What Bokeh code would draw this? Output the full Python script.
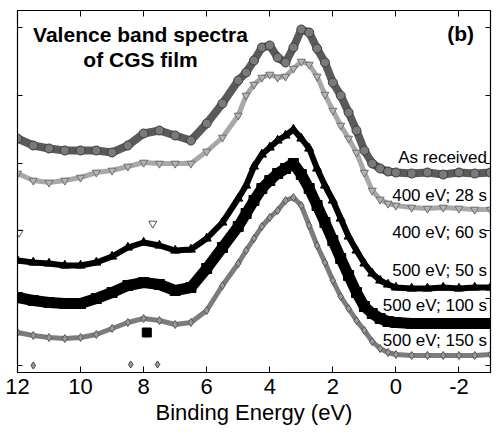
from bokeh.plotting import figure
from bokeh.models import Range1d, LinearAxis, FixedTicker, Label
from bokeh.embed import file_html
from bokeh.resources import INLINE

# Binding energy grid (eV)
energy = [12, 11.5, 11, 10.5, 10, 9.5, 9, 8.5, 8, 7.5, 7, 6.5, 6, 5.5, 5, 4.75, 4.5, 4.25,
          4, 3.75, 3.5, 3.25, 3, 2.75, 2.5, 2.25, 2, 1.75, 1.5, 1.25, 1, 0.75, 0.5, 0.25,
          0, -0.5, -1, -1.5, -2, -2.5, -3]

# Intensities (arbitrary units, offset spectra)
as_received = [234, 227, 224, 222, 222, 222, 220, 227, 239, 242, 237, 232, 249, 269, 292, 300,
               312, 325, 327, 315, 310, 325, 343, 340, 324, 310, 290, 277, 260, 242, 222, 209,
               204, 201, 200, 199, 200, 198, 200, 199, 200]
ev400_28s = [199, 192, 190, 192, 195, 200, 202, 206, 210, 209, 209, 209, 221, 235, 257, 277,
             288, 295, 298, 295, 296, 304, 311, 308, 296, 278, 262, 247, 234, 220, 200, 182,
             173, 169, 167, 165, 164, 165, 164, 163, 163]
ev500_50s = [112, 110, 109, 107, 107, 110, 116, 125, 130, 127, 122, 123, 134, 150, 174, 187,
             206, 218, 225, 232, 237, 243, 234, 224, 204, 187, 172, 154, 136, 122, 109, 99,
             92, 88, 85, 84, 84, 85, 84, 85, 85]
ev500_100s = [75, 72, 70, 69, 69, 74, 80, 87, 90, 88, 82, 85, 104, 125, 146, 159, 172, 184,
              192, 199, 204, 209, 198, 184, 167, 150, 132, 114, 97, 80, 66, 59, 54, 51, 50,
              49, 49, 49, 49, 49, 49]
ev500_150s = [40, 37, 35, 34, 35, 38, 44, 50, 54, 52, 48, 50, 62, 87, 109, 122, 134, 146, 155,
              162, 172, 175, 167, 147, 127, 110, 92, 76, 64, 52, 42, 31, 24, 20, 18, 17, 17,
              17, 17, 17, 18]

# stray points
stray_tri_x = [7.71, 11.95]
stray_tri_y = [149, 140]
stray_sq_x = [7.9]
stray_sq_y = [40]
stray_dia_x = [11.5, 8.41, 7.56]
stray_dia_y = [7, 8, 8]

x_ticks = [12, 10, 8, 6, 4, 2, 0, -2]
x_tick_labels = ["12", "10", "8", "6", "4", "2", "0", "-2"]
y_ticks = [7, 74, 142, 209, 277, 345]

labels = ["As received", "400 eV; 28 s", "400 eV; 60 s", "500 eV; 50 s", "500 eV; 100 s", "500 eV; 150 s"]
label_y = [215, 177, 140, 102, 67, 32]

FONT = "Liberation Sans"

p = figure(frame_width=473, frame_height=362, x_range=Range1d(12, -3), y_range=Range1d(0, 362),
           output_backend="svg", toolbar_location=None,
           min_border_left=17, min_border_right=7, min_border_top=10, min_border_bottom=61)
p.grid.visible = False
p.outline_line_color = "black"
p.outline_line_width = 1.2
p.background_fill_color = "white"
p.border_fill_color = "white"

# bottom axis
xa = p.xaxis[0]
xa.ticker = FixedTicker(ticks=x_ticks)
xa.major_label_overrides = dict(zip(x_ticks, x_tick_labels))
xa.major_tick_in = 6
xa.major_tick_out = 0
xa.minor_tick_line_color = None
xa.axis_line_color = "black"
xa.major_tick_line_color = "black"
xa.major_label_text_font = FONT
xa.major_label_text_font_size = "22px"
xa.major_label_text_color = "black"
xa.major_label_standoff = 6
xa.axis_label = "Binding Energy (eV)"
xa.axis_label_text_font = FONT
xa.axis_label_text_font_size = "22px"
xa.axis_label_text_font_style = "normal"
xa.axis_label_text_color = "black"
xa.axis_label_standoff = 3

# left axis: ticks only
ya = p.yaxis[0]
ya.ticker = FixedTicker(ticks=y_ticks)
ya.major_tick_in = 5
ya.major_tick_out = 0
ya.minor_tick_line_color = None
ya.axis_line_color = "black"
ya.major_tick_line_color = "black"
ya.major_label_overrides = {t: "" for t in y_ticks}
ya.major_label_standoff = 0

# top and right axes with ticks only
top = LinearAxis(ticker=FixedTicker(ticks=x_ticks), major_tick_in=6, major_tick_out=0,
                 minor_tick_line_color=None, major_label_standoff=0,
                 major_label_overrides={t: "" for t in x_ticks})
right = LinearAxis(ticker=FixedTicker(ticks=y_ticks), major_tick_in=5, major_tick_out=0,
                   minor_tick_line_color=None, major_label_standoff=0,
                   major_label_overrides={t: "" for t in y_ticks})
p.add_layout(top, "above")
p.add_layout(right, "right")

# spectra
p.line(energy, as_received, line_color="#5a5a5a", line_width=8)
p.scatter(energy, as_received, marker="circle", size=9, fill_color="#7a7a7a", line_color="#3c3c3c", line_width=1)

p.line(energy, ev400_28s, line_color="#a8a8a8", line_width=5)
p.scatter(energy, ev400_28s, marker="inverted_triangle", size=8, fill_color="#b4b4b4", line_color="#6e6e6e", line_width=1)

p.line(energy, ev500_50s, line_color="black", line_width=6)
p.scatter(energy, ev500_50s, marker="triangle", size=9, fill_color="black", line_color="black")

p.line(energy, ev500_100s, line_color="black", line_width=11)
p.scatter(energy, ev500_100s, marker="square", size=10, fill_color="black", line_color="black")

p.line(energy, ev500_150s, line_color="#7c7c7c", line_width=5)
p.scatter(energy, ev500_150s, marker="diamond", size=8, fill_color="#9a9a9a", line_color="#555555", line_width=1)

p.scatter(stray_tri_x, stray_tri_y, marker="inverted_triangle", size=8, fill_color="white", line_color="#555555")
p.scatter(stray_sq_x, stray_sq_y, marker="square", size=9, fill_color="black", line_color="black")
p.scatter(stray_dia_x, stray_dia_y, marker="diamond", size=7, fill_color="#9a9a9a", line_color="#444444")

# texts
for t, yy in [("Valence band spectra", 338), ("of CGS film", 313)]:
    p.add_layout(Label(x=8.1, y=yy, text=t, text_font=FONT, text_font_size="21px", text_color="black",
                       text_font_style="bold", text_align="center", text_baseline="middle"))
p.add_layout(Label(x=-2.05, y=339, text="(b)", text_font=FONT, text_font_size="21px", text_color="black",
                   text_font_style="bold", text_align="center", text_baseline="middle"))
for t, yy in zip(labels, label_y):
    p.add_layout(Label(x=-2.89, y=yy, text=t, text_font=FONT, text_font_size="17px", text_color="black",
                       text_align="right", text_baseline="middle"))

open("out.html", "w").write(file_html(p, INLINE))
